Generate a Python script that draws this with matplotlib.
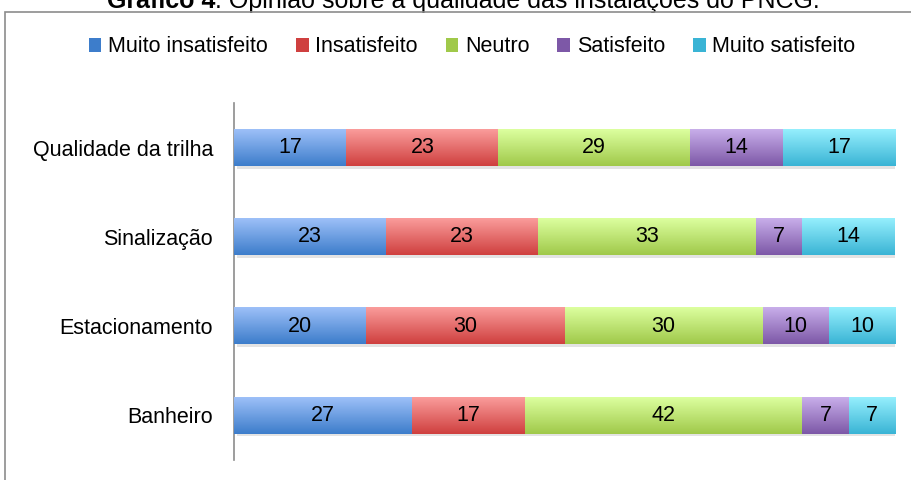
import numpy as np
import matplotlib
matplotlib.use("Agg")
import matplotlib.pyplot as plt
from matplotlib.patches import Rectangle
import matplotlib.patheffects as pe

# data
categories = ["Qualidade da trilha", "Sinalização", "Estacionamento", "Banheiro"]
series = ["Muito insatisfeito", "Insatisfeito", "Neutro", "Satisfeito", "Muito satisfeito"]
muito_insatisfeito = [17, 23, 20, 27]
insatisfeito = [23, 23, 30, 17]
neutro = [29, 33, 30, 42]
satisfeito = [14, 7, 10, 7]
muito_satisfeito = [17, 14, 10, 7]
values = [muito_insatisfeito, insatisfeito, neutro, satisfeito, muito_satisfeito]

# gradient colours (top, bottom)
grad = [("#9dc0f8", "#3d7dcb"),
        ("#fa9c9b", "#cf403f"),
        ("#dcff9f", "#a0c94a"),
        ("#c8aeea", "#7d58a7"),
        ("#95effd", "#3ab4d5")]

plt.rcParams["font.family"] = ["Liberation Sans", "DejaVu Sans"]
fs = 15.5

fig = plt.figure(figsize=(9.11, 4.8), dpi=100)
W, H = 911, 480

# outer frame of the chart area
fig.patches.append(Rectangle((5 / W, -0.1), 1.0, 1 - 12 / H + 0.1, transform=fig.transFigure,
                             fill=False, edgecolor="#8c8c8c", linewidth=1.2))

ax = fig.add_axes([234 / W, 1 - 460 / H, (895 - 234) / W, (460 - 103) / H])

# title, cut off at the top like the source
t1 = fig.text(107 / W, 1 - 8 / H, "Gráfico 4", fontsize=18, fontweight="bold", va="baseline")
ax.annotate(". Opinião sobre a qualidade das instalações do PNCG.", xy=(1, 0),
            xycoords=t1, va="bottom", ha="left", fontsize=18, annotation_clip=False)

y = np.arange(len(categories))
h = 0.41
left = np.zeros(len(categories))
gradient = np.linspace(0, 1, 64).reshape(-1, 1)
for vals, (ctop, cbot) in zip(values, grad):
    vals = np.array(vals, dtype=float)
    bars = ax.barh(y, vals, left=left, height=h, color=cbot, linewidth=0, zorder=2)
    for b in bars:
        b.set_path_effects([pe.SimplePatchShadow(offset=(2, -2), shadow_rgbFace="#808080", alpha=0.22),
                            pe.Normal()])
    cmap = matplotlib.colors.LinearSegmentedColormap.from_list("g", [ctop, cbot])
    for yi, l, v in zip(y, left, vals):
        ax.imshow(gradient, cmap=cmap, aspect="auto", zorder=3,
                  extent=(l, l + v, yi + h / 2, yi - h / 2), interpolation="bilinear")
        ax.text(l + v / 2, yi, f"{int(v)}", ha="center", va="center", fontsize=fs, zorder=4)
    left += vals

ax.set_xlim(0, 100)
ax.set_ylim(3.5, -0.5)
ax.set_yticks(y)
ax.set_yticklabels(categories, fontsize=fs)
ax.tick_params(axis="y", length=0, pad=15)
ax.set_xticks([])
for s in ["top", "right", "bottom"]:
    ax.spines[s].set_visible(False)
ax.spines["left"].set_color("#8c8c8c")
ax.spines["left"].set_linewidth(1.2)

# legend
handles = [Rectangle((0, 0), 1, 1, facecolor=cb, edgecolor="none") for _, cb in grad]
fig.legend(handles, series, loc="center", bbox_to_anchor=(472 / W, 1 - 47 / H), ncol=5,
           frameon=False, fontsize=fs, handlelength=0.6, handleheight=0.6,
           handletextpad=0.3, columnspacing=1.3)

fig.savefig("out.png", dpi=100)
